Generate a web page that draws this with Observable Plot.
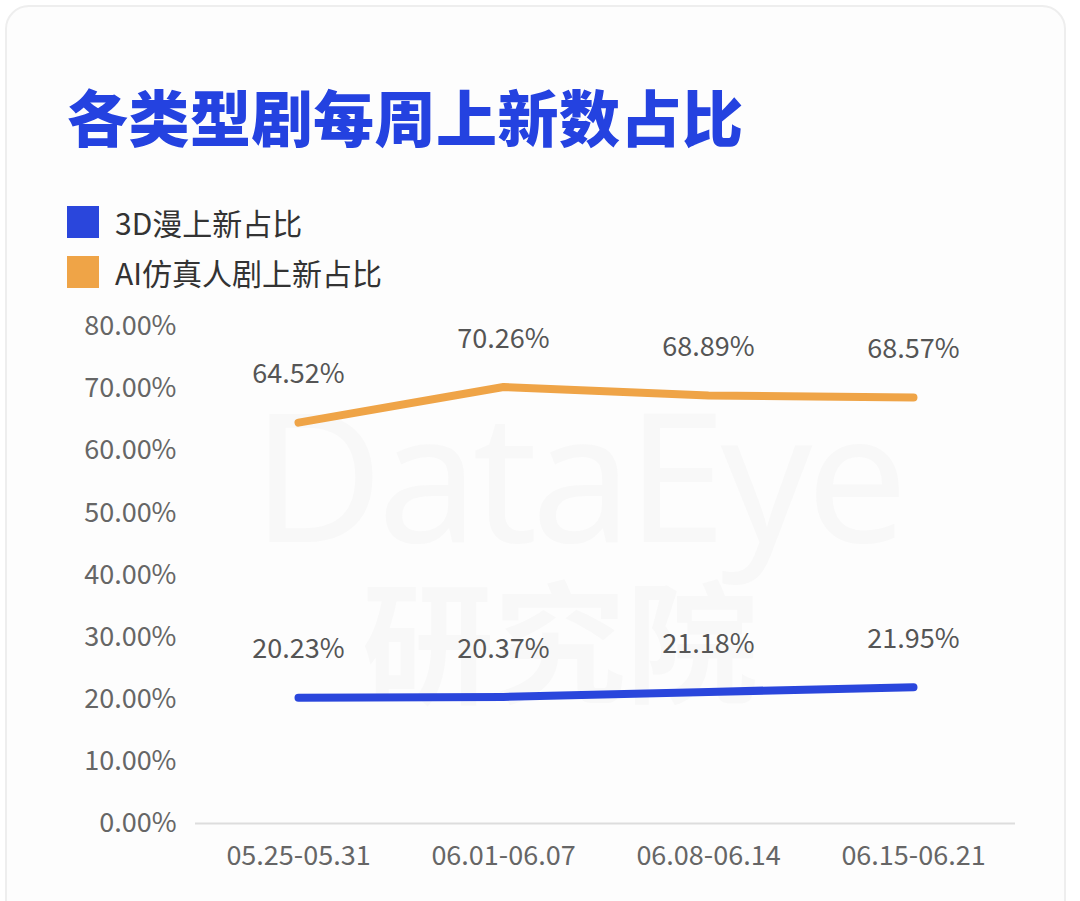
<!DOCTYPE html>
<html>
<head>
<meta charset="utf-8">
<script src="https://cdn.jsdelivr.net/npm/d3@7"></script>
<script src="https://cdn.jsdelivr.net/npm/@observablehq/plot@0.6"></script>
<style>
  html, body { margin: 0; padding: 0; background: #ffffff; width: 1080px; height: 901px; overflow: hidden; }
  body { position: relative; font-family: "Noto Sans CJK SC", "Noto Sans", sans-serif; }
  #card { position: absolute; left: 5px; top: 5px; width: 1061px; height: 920px; border: 2px solid #eeeeee; border-radius: 24px; background: #fdfdfd; box-sizing: border-box; }
  #title { position: absolute; left: 67px; top: 71px; font-size: 61px; font-weight: 900; color: #2442e0; letter-spacing: 0.5px; white-space: nowrap; }
  .leg { position: absolute; left: 67px; display: flex; align-items: center; font-size: 30px; color: #333; white-space: nowrap; }
  .sw { width: 32px; height: 32px; margin-right: 16px; }
  #wm1 { position: absolute; left: 252px; top: 350px; font-family: "Noto Sans", sans-serif; font-size: 180px; font-weight: 400; color: #f8f8f8; letter-spacing: -6px; white-space: nowrap; }
  #wm2 { position: absolute; left: 362px; top: 540px; font-size: 132px; font-weight: 700; color: #f8f8f8; white-space: nowrap; }
  #chart { position: absolute; left: 0; top: 300px; }
</style>
</head>
<body>
<div id="card"></div>
<div id="wm1">DataEye</div>
<div id="wm2">研究院</div>
<div id="title">各类型剧每周上新数占比</div>
<div id="legend"></div>
<div id="chart"></div>
<script>
const weeks = ["05.25-05.31", "06.01-06.07", "06.08-06.14", "06.15-06.21"];
const series3D = [20.23, 20.37, 21.18, 21.95];
const seriesAI = [64.52, 70.26, 68.89, 68.57];
const seriesNames = ["3D漫上新占比", "AI仿真人剧上新占比"];
const seriesColors = ["#2a46dc", "#efa447"];
const yTicks = [0, 10, 20, 30, 40, 50, 60, 70, 80];

// legend
const legend = document.getElementById("legend");
seriesNames.forEach((name, i) => {
  const d = document.createElement("div");
  d.className = "leg";
  d.style.top = (i === 0 ? 200 : 250) + "px";
  d.innerHTML = `<div class="sw" style="background:${seriesColors[i]}"></div><span>${name}</span>`;
  legend.appendChild(d);
});

const rows = [];
weeks.forEach((w, i) => {
  rows.push({week: w, value: series3D[i], series: seriesNames[0]});
  rows.push({week: w, value: seriesAI[i], series: seriesNames[1]});
});

const chart = Plot.plot({
  width: 1080,
  height: 590,
  marginTop: 26,
  marginBottom: 67,
  marginLeft: 195,
  marginRight: 65,
  style: { fontFamily: "'Noto Sans CJK SC', 'Noto Sans', sans-serif", background: "transparent" },
  x: { type: "point", domain: weeks, padding: 0.5, label: null },
  y: { domain: [0, 80], ticks: yTicks, label: null },
  color: { domain: seriesNames, range: seriesColors },
  marks: [
    Plot.axisY({ ticks: yTicks, tickSize: 0, tickPadding: 19, tickFormat: d => d.toFixed(2) + "%", fontSize: 27, fill: "#666", label: null }),
    Plot.axisX({ tickSize: 0, tickPadding: 22, fontSize: 27, fill: "#666", label: null }),
    Plot.ruleY([0], { stroke: "#dddddd", strokeWidth: 2 }),
    Plot.line(rows, { x: "week", y: "value", z: "series", stroke: "series", strokeWidth: 8, strokeLinecap: "round", strokeLinejoin: "round" }),
    Plot.text(rows, { x: "week", y: "value", text: d => d.value.toFixed(2) + "%", dy: -48, fontSize: 27, fill: "#555" })
  ]
});
document.getElementById("chart").appendChild(chart);
</script>
</body>
</html>
